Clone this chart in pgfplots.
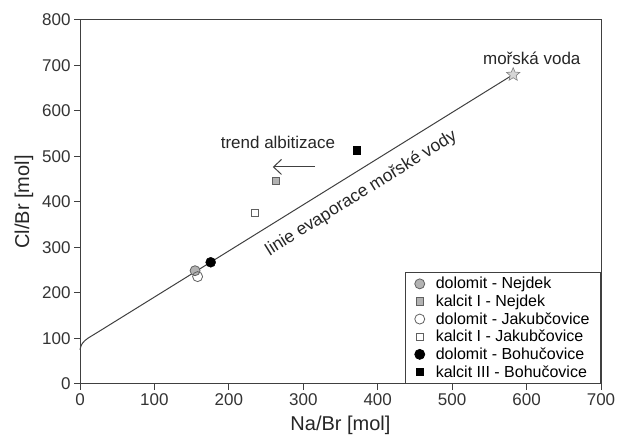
\documentclass[border=0pt]{standalone}
\usepackage{fontspec}
\setmainfont{Liberation Sans}
\usepackage{pgfplots}
\pgfplotsset{compat=1.18}
\usetikzlibrary{arrows.meta}

\definecolor{axgray}{HTML}{404040}
\definecolor{ptgray}{HTML}{B2B2B2}
\definecolor{ptedge}{HTML}{606060}
\definecolor{stargray}{HTML}{D6D6D6}

% filled five-pointed star
\pgfdeclareplotmark{fstar}{%
  \pgfpathmoveto{\pgfpointpolar{90}{\pgfplotmarksize}}%
  \foreach \k in {0,...,4}{%
    \pgfmathsetmacro\ai{126+72*\k}%
    \pgfmathsetmacro\ao{162+72*\k}%
    \pgfpathlineto{\pgfpointpolar{\ai}{0.45\pgfplotmarksize}}%
    \pgfpathlineto{\pgfpointpolar{\ao}{\pgfplotmarksize}}%
  }%
  \pgfpathclose
  \pgfusepathqfillstroke}

\begin{document}
\begin{tikzpicture}
\begin{axis}[
    scale only axis,
    width=521pt,
    height=364pt,
    xmin=0, xmax=700,
    ymin=0, ymax=800,
    xtick={0,100,...,700},
    ytick={0,100,...,800},
    xtick pos=left, ytick pos=left,
    tick align=outside,
    major tick length=6pt,
    axis line style={axgray, line width=1pt},
    tick style={axgray, line width=1pt},
    /pgf/number format/assume math mode=true,
    tick label style={font=\fontsize{17}{19}\selectfont, text=black!80},
    label style={font=\fontsize{20}{22}\selectfont, text=black!85},
    xlabel={Na/Br [mol]},
    ylabel={Cl/Br [mol]},
    xlabel style={yshift=-4pt},
    ylabel style={yshift=2pt},
    clip=false,
    legend style={at={(1,0)}, anchor=south east, draw=axgray, line width=0.8pt,
        font=\fontsize{16}{18}\selectfont, row sep=0.5pt,
        inner xsep=9pt, inner ysep=3pt,
        /tikz/every odd column/.append style={column sep=9pt}},
    legend cell align=left,
]
% evaporation line of sea water
\addplot[axgray, line width=1pt, forget plot] coordinates {
(0,75) (1,82) (2,86) (4,91) (7,96) (11,101) (16,106) (25,115) (582,680)
};
\addplot[only marks, mark=*, mark size=5pt, mark options={fill=ptgray, draw=ptedge, line width=0.8pt}] coordinates {(154.6,249)};
\addlegendentry{dolomit - Nejdek}
\addplot[only marks, mark=square*, mark size=3.7pt, mark options={fill=ptgray, draw=ptedge, line width=0.8pt}] coordinates {(263,446)};
\addlegendentry{kalcit I - Nejdek}
\addplot[only marks, mark=o, mark size=5pt, mark options={draw=ptedge, line width=0.8pt, fill=white}] coordinates {(158,236)};
\addlegendentry{dolomit - Jakubčovice}
\addplot[only marks, mark=square*, mark size=3.7pt, mark options={fill=white, draw=ptedge, line width=0.8pt}] coordinates {(235,376)};
\addlegendentry{kalcit I - Jakubčovice}
\addplot[only marks, mark=*, mark size=5pt, mark options={fill=black, draw=black}] coordinates {(175.6,267.5)};
\addlegendentry{dolomit - Bohučovice}
\addplot[only marks, mark=square*, mark size=3.7pt, mark options={fill=black, draw=black}] coordinates {(371.8,514)};
\addlegendentry{kalcit III - Bohučovice}
% sea water
\addplot[only marks, mark=fstar, mark size=7pt, mark options={fill=stargray, draw=gray, line width=0.6pt}, forget plot] coordinates {(582,680)};

\node[font=\fontsize{17}{19}\selectfont, text=black!85] at (axis cs:607,716) {mořská voda};
\node[font=\fontsize{17}{19}\selectfont, text=black!85] at (axis cs:266,530) {trend albitizace};
\draw[axgray, line width=1pt, -{Straight Barb[length=8pt,width=15pt,line width=1pt]}] (axis cs:316,477) -- (axis cs:259,477);
\node[font=\fontsize{17.5}{19}\selectfont, text=black!85, rotate=32] at (axis cs:378,419) {linie evaporace mořské vody};
\end{axis}
\pgfresetboundingbox
\path ([xshift=-80pt,yshift=-62pt]current axis.south west) rectangle ([xshift=22pt,yshift=20pt]current axis.north east);
\end{tikzpicture}
\end{document}
